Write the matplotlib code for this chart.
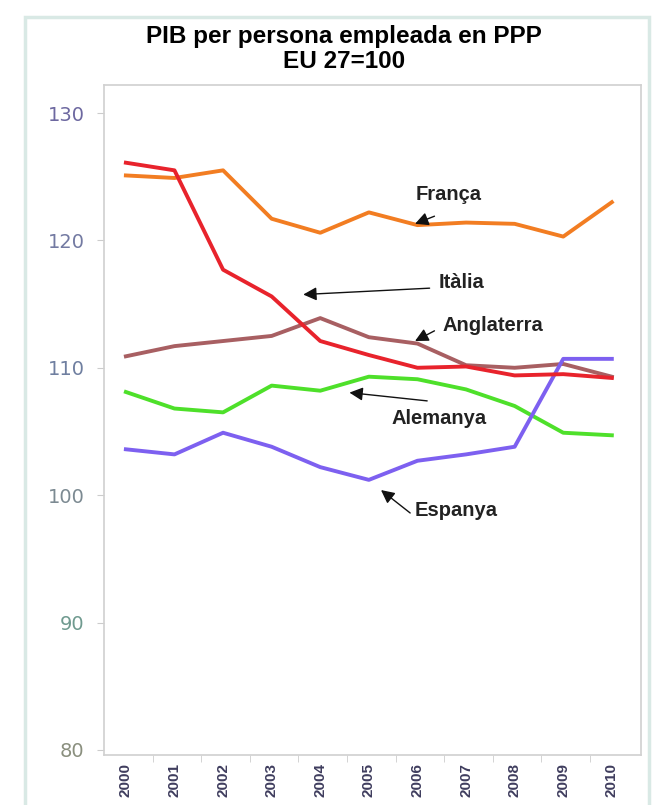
import matplotlib
matplotlib.use('Agg')
import matplotlib.pyplot as plt
import matplotlib.ticker as ticker
from matplotlib.patches import Rectangle

plt.rcParams['font.family'] = ['Liberation Sans', 'DejaVu Sans']

# Chart data (index EU 27 = 100)
years = ['2000', '2001', '2002', '2003', '2004', '2005', '2006', '2007', '2008', '2009', '2010']
franca = [125.1, 124.9, 125.5, 121.7, 120.6, 122.2, 121.2, 121.4, 121.3, 120.3, 123.0]
italia = [126.1, 125.5, 117.7, 115.6, 112.1, 111.0, 110.0, 110.1, 109.4, 109.5, 109.2]
anglaterra = [110.9, 111.7, 112.1, 112.5, 113.9, 112.4, 111.9, 110.2, 110.0, 110.3, 109.3]
alemanya = [108.1, 106.8, 106.5, 108.6, 108.2, 109.3, 109.1, 108.3, 107.0, 104.9, 104.7]
espanya = [103.6, 103.2, 104.9, 103.8, 102.2, 101.2, 102.7, 103.2, 103.8, 110.7, 110.7]
yticks = [80, 90, 100, 110, 120, 130]
ytick_colors = ['#8a8f7e', '#6f9a8f', '#7c8a92', '#6f7fa0', '#737aa2', '#6d68a0']

series = [
    (anglaterra, '#a85f62'),
    (franca, '#f27d22'),
    (alemanya, '#4ee02a'),
    (espanya, '#7d60f0'),
    (italia, '#e8232c'),
]

# label text, text position, arrow tail, arrow head (in year-index / value units)
labels = [
    ('França', (6.65, 123.6), (6.35, 121.9), (5.95, 121.3)),
    ('Itàlia', (6.9, 116.7), (6.25, 116.25), (3.65, 115.75)),
    ('Anglaterra', (7.55, 113.3), (6.35, 112.9), (5.95, 112.1)),
    ('Alemanya', (6.45, 106.0), (6.2, 107.4), (4.6, 108.05)),
    ('Espanya', (6.8, 98.8), (5.85, 98.6), (5.25, 100.4)),
]

fig = plt.figure(figsize=(6.61, 8.05), dpi=100)

# outer frame of the picture
fig.patches.append(Rectangle((25 / 661, -0.01), 624 / 661, 1 - 17 / 805 + 0.01,
                             transform=fig.transFigure, fill=False,
                             edgecolor='#d9e9e5', linewidth=2.5))

ax = fig.add_axes([104 / 661, 1 - 755 / 805, (641 - 104) / 661, (755 - 85) / 805])

x = list(range(len(years)))
for vals, color in series:
    ax.plot(x, vals, color=color, linewidth=2.8)

ax.set_xlim(-0.45, 10.6)
ax.set_ylim(79.6, 132.2)

ax.set_yticks(yticks)
ax.set_yticklabels([str(t) for t in yticks], fontsize=14, family='DejaVu Sans')
for lab, c in zip(ax.get_yticklabels(), ytick_colors):
    lab.set_color(c)
ax.tick_params(axis='y', length=5, color='#cccccc', pad=9)

ax.set_xticks(x)
ax.set_xticklabels(years, rotation=90, fontsize=11, color='#3f3d5e', fontweight='bold')
ax.tick_params(axis='x', which='major', length=0, pad=6)
ax.xaxis.set_minor_locator(ticker.FixedLocator([i + 0.55 for i in range(10)]))
ax.tick_params(axis='x', which='minor', length=5, color='#cccccc')

for s in ax.spines.values():
    s.set_color('#d0d0d0')
    s.set_linewidth(1.2)

for text, tpos, tail, head in labels:
    ax.annotate('', xy=head, xytext=tail,
                arrowprops=dict(arrowstyle='-|>', color='#111111', lw=1.0,
                                mutation_scale=20, shrinkA=0, shrinkB=0))
    ax.text(tpos[0], tpos[1], text, fontsize=14.5, fontweight='bold',
            ha='center', va='center', color='#222222')

fig.text(0.52, 1 - 36 / 805, 'PIB per persona empleada en PPP', fontsize=17.5,
         fontweight='bold', ha='center', va='center')
fig.text(0.52, 1 - 62 / 805, 'EU 27=100', fontsize=17.5,
         fontweight='bold', ha='center', va='center')

fig.savefig('out.png', dpi=100)
